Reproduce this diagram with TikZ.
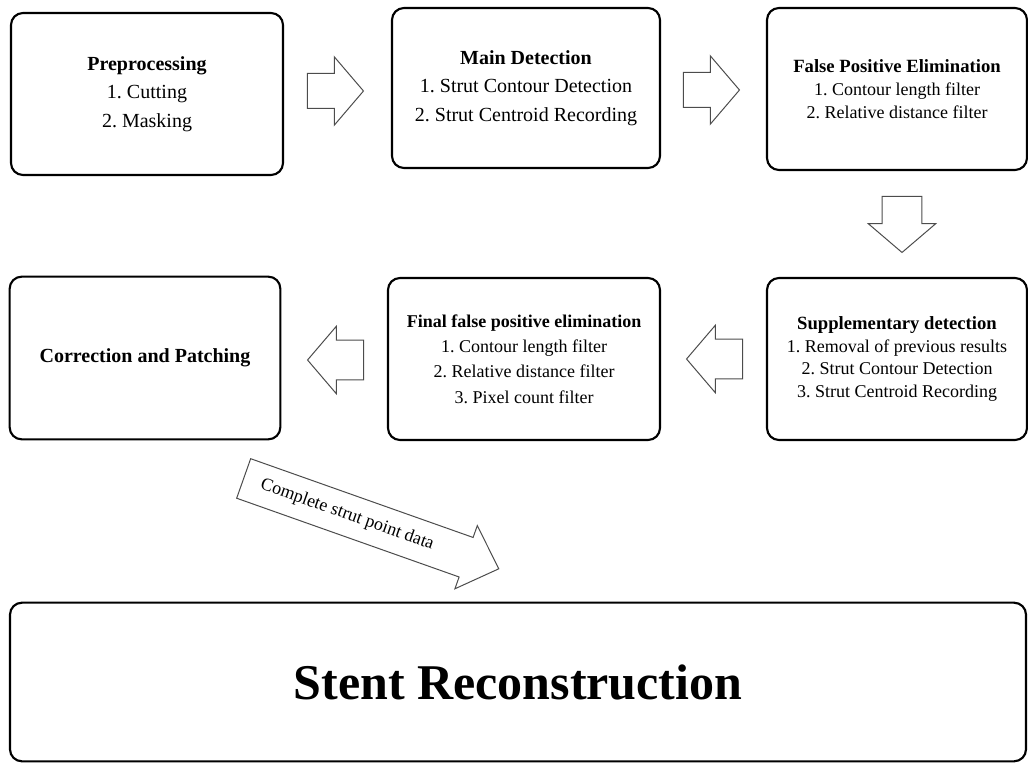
\documentclass[tikz,border=0pt]{standalone}
\usepackage{fontspec}
\setmainfont{Liberation Serif}
\usetikzlibrary{shapes.arrows}

\tikzset{
  stage/.style={draw,line width=1.6pt,rounded corners=9pt,align=center,inner sep=0pt},
  bigfont/.style={font=\fontsize{15}{21.5}\selectfont},
  smallfont/.style={font=\fontsize{13.5}{17}\selectfont},
  flow/.style={single arrow,draw=black!70,line width=0.75pt,inner xsep=0pt,inner ysep=12.75pt,
    single arrow tip angle=99,single arrow head extend=12.5pt,
    minimum height=42pt,minimum width=50pt},
  flowwide/.style={flow,inner ysep=14.5pt,single arrow head extend=10.5pt}
}

\begin{document}
\frenchspacing
\begin{tikzpicture}[x=0.75pt,y=-0.75pt]
\useasboundingbox (0,0) rectangle (1028,763);

% first row
\node[stage,bigfont,minimum width=204pt,minimum height=121.5pt] (prep) at (147,94)
  {\textbf{Preprocessing}\\1. Cutting\\2. Masking};
\node[stage,bigfont,minimum width=201pt,minimum height=120pt] (maindet) at (526,88)
  {\textbf{Main Detection}\\1. Strut Contour Detection\\2. Strut Centroid Recording};
\node[stage,smallfont,minimum width=195pt,minimum height=121.5pt] (fpe) at (897,89)
  {\textbf{\fontsize{14}{17}\selectfont False Positive Elimination}\\1. Contour length filter\\2. Relative distance filter};

% second row
\node[stage,smallfont,minimum width=195pt,minimum height=121.5pt] (supp) at (897,359)
  {\textbf{\fontsize{14}{17}\selectfont Supplementary detection}\\1. Removal of previous results\\2. Strut Contour Detection\\3. Strut Centroid Recording};
\node[stage,font=\fontsize{13.5}{19}\selectfont,minimum width=204pt,minimum height=121.5pt] (finalfp) at (524,359)
  {\textbf{Final false positive elimination}\\1. Contour length filter\\2. Relative distance filter\\3. Pixel count filter};
\node[stage,bigfont,minimum width=203pt,minimum height=122pt] (corr) at (145,358)
  {\textbf{Correction and Patching}};

% last stage
\node[stage,font=\fontsize{37.5}{40}\selectfont,minimum width=762pt,minimum height=119pt] (stent) at (518,682)
  {\textbf{Stent Reconstruction}};

% block arrows
\node[flow] (prep-main) at (328,91) {};
\node[flow] (main-fpe) at (704,90) {};
\node[flowwide,rotate=-90] (fpe-supp) at (902,216) {};
\node[flowwide,rotate=180] (supp-final) at (723,359) {};
\node[flowwide,rotate=180] (final-corr) at (344,360) {};
\node[flow,rotate=-19.5,minimum height=203pt,minimum width=49.5pt,
  text height=9.5pt,text depth=3pt,inner ysep=9.1pt,
  single arrow tip angle=88,single arrow head extend=9.4pt,
  font=\fontsize{13.5}{16}\selectfont] (data) at (361,520)
  {Complete strut point data\hspace*{22pt}};
\end{tikzpicture}
\end{document}
